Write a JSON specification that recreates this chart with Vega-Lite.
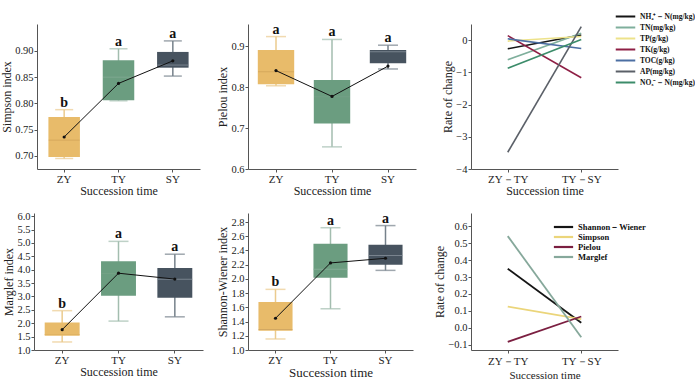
{
  "$schema": "https://vega.github.io/schema/vega-lite/v6.json",
  "padding": {"left": 0, "top": 11, "right": 0, "bottom": 0},
  "background": "white",
  "columns": 3,
  "align": "none",
  "bounds": "flush",
  "spacing": {"row": 44, "column": 42},
  "datasets": {
    "simpson": [
      {"g": "ZY", "lo": 0.695, "q1": 0.698, "med": 0.730, "q3": 0.774, "hi": 0.788, "mean": 0.736, "sig": "b"},
      {"g": "TY", "lo": 0.805, "q1": 0.806, "med": 0.850, "q3": 0.882, "hi": 0.904, "mean": 0.838, "sig": "a"},
      {"g": "SY", "lo": 0.852, "q1": 0.868, "med": 0.873, "q3": 0.898, "hi": 0.919, "mean": 0.881, "sig": "a"}
    ],
    "pielou": [
      {"g": "ZY", "lo": 0.803, "q1": 0.807, "med": 0.837, "q3": 0.890, "hi": 0.923, "mean": 0.840, "sig": "a"},
      {"g": "TY", "lo": 0.654, "q1": 0.711, "med": 0.776, "q3": 0.817, "hi": 0.916, "mean": 0.777, "sig": "a"},
      {"g": "SY", "lo": 0.844, "q1": 0.858, "med": 0.886, "q3": 0.890, "hi": 0.902, "mean": 0.851, "sig": "a"}
    ],
    "marglef": [
      {"g": "ZY", "lo": 1.30, "q1": 1.53, "med": 1.58, "q3": 2.03, "hi": 2.47, "mean": 1.76, "sig": "b"},
      {"g": "TY", "lo": 2.08, "q1": 3.03, "med": 3.86, "q3": 4.32, "hi": 5.06, "mean": 3.87, "sig": "a"},
      {"g": "SY", "lo": 2.24, "q1": 2.95, "med": 3.64, "q3": 4.06, "hi": 4.58, "mean": 3.65, "sig": "a"}
    ],
    "shannon": [
      {"g": "ZY", "lo": 1.155, "q1": 1.27, "med": 1.29, "q3": 1.675, "hi": 1.853, "mean": 1.446, "sig": "b"},
      {"g": "TY", "lo": 1.58, "q1": 2.018, "med": 2.135, "q3": 2.496, "hi": 2.72, "mean": 2.225, "sig": "a"},
      {"g": "SY", "lo": 2.12, "q1": 2.20, "med": 2.33, "q3": 2.48, "hi": 2.75, "mean": 2.29, "sig": "a"}
    ],
    "soil": [
      {"k": "NH₄⁺－N(mg/kg)", "p": "ZY－TY", "v": -0.27},
      {"k": "NH₄⁺－N(mg/kg)", "p": "TY－SY", "v": 0.16},
      {"k": "TN(mg/kg)", "p": "ZY－TY", "v": -0.61},
      {"k": "TN(mg/kg)", "p": "TY－SY", "v": 0.21},
      {"k": "TP(g/kg)", "p": "ZY－TY", "v": -0.03},
      {"k": "TP(g/kg)", "p": "TY－SY", "v": 0.11},
      {"k": "TK(g/kg)", "p": "ZY－TY", "v": 0.14},
      {"k": "TK(g/kg)", "p": "TY－SY", "v": -1.17},
      {"k": "TOC(g/kg)", "p": "ZY－TY", "v": 0.04},
      {"k": "TOC(g/kg)", "p": "TY－SY", "v": -0.26},
      {"k": "AP(mg/kg)", "p": "ZY－TY", "v": -3.48},
      {"k": "AP(mg/kg)", "p": "TY－SY", "v": 0.42},
      {"k": "NO₃⁻－N(mg/kg)", "p": "ZY－TY", "v": -0.87},
      {"k": "NO₃⁻－N(mg/kg)", "p": "TY－SY", "v": 0.02}
    ],
    "div": [
      {"k": "Shannon－Wiener", "p": "ZY－TY", "v": 0.349},
      {"k": "Shannon－Wiener", "p": "TY－SY", "v": 0.029},
      {"k": "Simpson", "p": "ZY－TY", "v": 0.125},
      {"k": "Simpson", "p": "TY－SY", "v": 0.05},
      {"k": "Pielou", "p": "ZY－TY", "v": -0.084},
      {"k": "Pielou", "p": "TY－SY", "v": 0.066},
      {"k": "Marglef", "p": "ZY－TY", "v": 0.543},
      {"k": "Marglef", "p": "TY－SY", "v": -0.057}
    ]
  },
  "resolve": {"scale": {"color": "independent"}, "legend": {"color": "independent"}},
  "concat": [
    {
      "width": 166, "height": 145,
      "data": {"name": "simpson"},
      "encoding": {"x": {"field": "g", "type": "nominal", "sort": ["ZY", "TY", "SY"], "scale": {"type": "band", "paddingInner": 0, "paddingOuter": 0, "range": [3, 166]}, "axis": {"title": "Succession time", "labelAngle": 0, "labelPadding": 1, "titlePadding": 1}}},
      "resolve": {"scale": {"color": "independent"}},
      "layer": [
        {"mark": {"type": "rule", "strokeWidth": 1.5}, "encoding": {"y": {"field": "lo", "type": "quantitative", "scale": {"domain": [0.675, 0.9512], "nice": false, "zero": false}, "axis": {"title": "Simpson index", "values": [0.7, 0.75, 0.8, 0.85, 0.9], "format": ".2f", "offset": -3, "labelOverlap": false}}, "y2": {"field": "hi"}, "color": {"field": "g", "type": "nominal", "scale": {"domain": ["ZY", "TY", "SY"], "range": ["#EBCB8E", "#A3BDAF", "#76818B"]}, "legend": null}}},
        {"mark": {"type": "bar", "width": {"band": 0.58}}, "encoding": {"y": {"field": "q1", "type": "quantitative", "axis": {"title": "Simpson index", "values": [0.7, 0.75, 0.8, 0.85, 0.9], "format": ".2f", "offset": -3, "labelOverlap": false}}, "y2": {"field": "q3"}, "color": {"field": "g", "type": "nominal", "scale": {"domain": ["ZY", "TY", "SY"], "range": ["#E8BB6A", "#6B9D80", "#47535F"]}, "legend": null}}},
        {"mark": {"type": "tick", "size": 18, "thickness": 1.5}, "encoding": {"y": {"field": "lo", "type": "quantitative", "axis": {"title": "Simpson index", "values": [0.7, 0.75, 0.8, 0.85, 0.9], "format": ".2f", "offset": -3, "labelOverlap": false}}, "color": {"field": "g", "type": "nominal", "scale": {"domain": ["ZY", "TY", "SY"], "range": ["#EBCB8E", "#A3BDAF", "#76818B"]}, "legend": null}}},
        {"mark": {"type": "tick", "size": 18, "thickness": 1.5}, "encoding": {"y": {"field": "hi", "type": "quantitative", "axis": {"title": "Simpson index", "values": [0.7, 0.75, 0.8, 0.85, 0.9], "format": ".2f", "offset": -3, "labelOverlap": false}}, "color": {"field": "g", "type": "nominal", "scale": {"domain": ["ZY", "TY", "SY"], "range": ["#EBCB8E", "#A3BDAF", "#76818B"]}, "legend": null}}},
        {"mark": {"type": "tick", "size": 31, "thickness": 1}, "encoding": {"y": {"field": "med", "type": "quantitative", "axis": {"title": "Simpson index", "values": [0.7, 0.75, 0.8, 0.85, 0.9], "format": ".2f", "offset": -3, "labelOverlap": false}}, "color": {"field": "g", "type": "nominal", "scale": {"domain": ["ZY", "TY", "SY"], "range": ["#CFA056", "#86AD96", "#8E99A2"]}, "legend": null}}},
        {"mark": {"type": "line", "color": "#111", "strokeWidth": 1}, "encoding": {"y": {"field": "mean", "type": "quantitative", "axis": {"title": "Simpson index", "values": [0.7, 0.75, 0.8, 0.85, 0.9], "format": ".2f", "offset": -3, "labelOverlap": false}}}},
        {"mark": {"type": "point", "filled": true, "color": "#111", "size": 10, "opacity": 1}, "encoding": {"y": {"field": "mean", "type": "quantitative", "axis": {"title": "Simpson index", "values": [0.7, 0.75, 0.8, 0.85, 0.9], "format": ".2f", "offset": -3, "labelOverlap": false}}}},
        {"mark": {"type": "text", "dy": -3, "baseline": "alphabetic", "font": "Liberation Serif", "fontWeight": "bold", "fontSize": 14, "color": "#111"}, "encoding": {"y": {"field": "hi", "type": "quantitative", "axis": {"title": "Simpson index", "values": [0.7, 0.75, 0.8, 0.85, 0.9], "format": ".2f", "offset": -3, "labelOverlap": false}}, "text": {"field": "sig"}}}
      ]
    },
    {
      "width": 181, "height": 145,
      "data": {"name": "pielou"},
      "encoding": {"x": {"field": "g", "type": "nominal", "sort": ["ZY", "TY", "SY"], "scale": {"type": "band", "paddingInner": 0, "paddingOuter": 0, "range": [0, 168]}, "axis": {"title": "Succession time", "labelAngle": 0, "labelPadding": 1, "titlePadding": 1}}},
      "resolve": {"scale": {"color": "independent"}},
      "layer": [
        {"mark": {"type": "rule", "strokeWidth": 1.5}, "encoding": {"y": {"field": "lo", "type": "quantitative", "scale": {"domain": [0.6, 0.9537], "nice": false, "zero": false}, "axis": {"title": "Pielou index", "values": [0.6, 0.7, 0.8, 0.9], "format": ".1f", "labelOverlap": false}}, "y2": {"field": "hi"}, "color": {"field": "g", "type": "nominal", "scale": {"domain": ["ZY", "TY", "SY"], "range": ["#EBCB8E", "#A3BDAF", "#76818B"]}, "legend": null}}},
        {"mark": {"type": "bar", "width": {"band": 0.65}}, "encoding": {"y": {"field": "q1", "type": "quantitative", "axis": {"title": "Pielou index", "values": [0.6, 0.7, 0.8, 0.9], "format": ".1f", "labelOverlap": false}}, "y2": {"field": "q3"}, "color": {"field": "g", "type": "nominal", "scale": {"domain": ["ZY", "TY", "SY"], "range": ["#E8BB6A", "#6B9D80", "#47535F"]}, "legend": null}}},
        {"mark": {"type": "tick", "size": 20, "thickness": 1.5}, "encoding": {"y": {"field": "lo", "type": "quantitative", "axis": {"title": "Pielou index", "values": [0.6, 0.7, 0.8, 0.9], "format": ".1f", "labelOverlap": false}}, "color": {"field": "g", "type": "nominal", "scale": {"domain": ["ZY", "TY", "SY"], "range": ["#EBCB8E", "#A3BDAF", "#76818B"]}, "legend": null}}},
        {"mark": {"type": "tick", "size": 20, "thickness": 1.5}, "encoding": {"y": {"field": "hi", "type": "quantitative", "axis": {"title": "Pielou index", "values": [0.6, 0.7, 0.8, 0.9], "format": ".1f", "labelOverlap": false}}, "color": {"field": "g", "type": "nominal", "scale": {"domain": ["ZY", "TY", "SY"], "range": ["#EBCB8E", "#A3BDAF", "#76818B"]}, "legend": null}}},
        {"mark": {"type": "tick", "size": 36, "thickness": 1}, "encoding": {"y": {"field": "med", "type": "quantitative", "axis": {"title": "Pielou index", "values": [0.6, 0.7, 0.8, 0.9], "format": ".1f", "labelOverlap": false}}, "color": {"field": "g", "type": "nominal", "scale": {"domain": ["ZY", "TY", "SY"], "range": ["#CFA056", "#76A287", "#8E99A2"]}, "legend": null}}},
        {"mark": {"type": "line", "color": "#111", "strokeWidth": 1}, "encoding": {"y": {"field": "mean", "type": "quantitative", "axis": {"title": "Pielou index", "values": [0.6, 0.7, 0.8, 0.9], "format": ".1f", "labelOverlap": false}}}},
        {"mark": {"type": "point", "filled": true, "color": "#111", "size": 10, "opacity": 1}, "encoding": {"y": {"field": "mean", "type": "quantitative", "axis": {"title": "Pielou index", "values": [0.6, 0.7, 0.8, 0.9], "format": ".1f", "labelOverlap": false}}}},
        {"mark": {"type": "text", "dy": -3, "baseline": "alphabetic", "font": "Liberation Serif", "fontWeight": "bold", "fontSize": 14, "color": "#111"}, "encoding": {"y": {"field": "hi", "type": "quantitative", "axis": {"title": "Pielou index", "values": [0.6, 0.7, 0.8, 0.9], "format": ".1f", "labelOverlap": false}}, "text": {"field": "sig"}}}
      ]
    },
    {
      "width": 147, "height": 145,
      "data": {"name": "soil"},
      "mark": {"type": "line", "strokeWidth": 1.6},
      "encoding": {
        "x": {"field": "p", "type": "nominal", "sort": ["ZY－TY", "TY－SY"], "scale": {"type": "point", "padding": 0.5}, "axis": {"title": "Succession time", "labelAngle": 0, "labelPadding": 1, "titlePadding": 1}},
        "y": {"field": "v", "type": "quantitative", "scale": {"domain": [-4, 0.5], "nice": false, "zero": false}, "axis": {"title": "Rate of change", "values": [-4, -3, -2, -1, 0], "format": "d", "labelOverlap": false}},
        "color": {"field": "k", "type": "nominal", "scale": {"domain": ["NH₄⁺－N(mg/kg)", "TN(mg/kg)", "TP(g/kg)", "TK(g/kg)", "TOC(g/kg)", "AP(mg/kg)", "NO₃⁻－N(mg/kg)"], "range": ["#151515", "#7FAF9C", "#EDE28A", "#8E1F45", "#4C6FA3", "#5B6068", "#3C8C6A"]}, "legend": {"orient": "none", "legendX": 149, "legendY": -13, "title": null, "symbolType": "M-2.3,0L2.3,0", "symbolSize": 72, "symbolStrokeWidth": 2, "labelFont": "Liberation Serif", "labelFontWeight": "bold", "labelFontSize": 7.5, "labelColor": "#111", "rowPadding": 1, "labelOffset": 9}}
      }
    },
    {
      "width": 172, "height": 137,
      "data": {"name": "marglef"},
      "encoding": {"x": {"field": "g", "type": "nominal", "sort": ["ZY", "TY", "SY"], "scale": {"type": "band", "paddingInner": 0, "paddingOuter": 0, "range": [0, 169]}, "axis": {"title": "Succession time", "labelAngle": 0, "labelPadding": 1, "titlePadding": 1}}},
      "resolve": {"scale": {"color": "independent"}},
      "layer": [
        {"mark": {"type": "rule", "strokeWidth": 1.5}, "encoding": {"y": {"field": "lo", "type": "quantitative", "scale": {"domain": [1, 6.12], "nice": false, "zero": false}, "axis": {"title": "Marglef index", "values": [1, 1.5, 2, 2.5, 3, 3.5, 4, 4.5, 5, 5.5, 6], "format": ".1f", "labelOverlap": false}}, "y2": {"field": "hi"}, "color": {"field": "g", "type": "nominal", "scale": {"domain": ["ZY", "TY", "SY"], "range": ["#EBCB8E", "#A3BDAF", "#76818B"]}, "legend": null}}},
        {"mark": {"type": "bar", "width": {"band": 0.62}}, "encoding": {"y": {"field": "q1", "type": "quantitative", "axis": {"title": "Marglef index", "values": [1, 1.5, 2, 2.5, 3, 3.5, 4, 4.5, 5, 5.5, 6], "format": ".1f", "labelOverlap": false}}, "y2": {"field": "q3"}, "color": {"field": "g", "type": "nominal", "scale": {"domain": ["ZY", "TY", "SY"], "range": ["#E8BB6A", "#6B9D80", "#47535F"]}, "legend": null}}},
        {"mark": {"type": "tick", "size": 20, "thickness": 1.5}, "encoding": {"y": {"field": "lo", "type": "quantitative", "axis": {"title": "Marglef index", "values": [1, 1.5, 2, 2.5, 3, 3.5, 4, 4.5, 5, 5.5, 6], "format": ".1f", "labelOverlap": false}}, "color": {"field": "g", "type": "nominal", "scale": {"domain": ["ZY", "TY", "SY"], "range": ["#EBCB8E", "#A3BDAF", "#76818B"]}, "legend": null}}},
        {"mark": {"type": "tick", "size": 20, "thickness": 1.5}, "encoding": {"y": {"field": "hi", "type": "quantitative", "axis": {"title": "Marglef index", "values": [1, 1.5, 2, 2.5, 3, 3.5, 4, 4.5, 5, 5.5, 6], "format": ".1f", "labelOverlap": false}}, "color": {"field": "g", "type": "nominal", "scale": {"domain": ["ZY", "TY", "SY"], "range": ["#EBCB8E", "#A3BDAF", "#76818B"]}, "legend": null}}},
        {"mark": {"type": "tick", "size": 35, "thickness": 1}, "encoding": {"y": {"field": "med", "type": "quantitative", "axis": {"title": "Marglef index", "values": [1, 1.5, 2, 2.5, 3, 3.5, 4, 4.5, 5, 5.5, 6], "format": ".1f", "labelOverlap": false}}, "color": {"field": "g", "type": "nominal", "scale": {"domain": ["ZY", "TY", "SY"], "range": ["#DDAF60", "#76A287", "#8E99A2"]}, "legend": null}}},
        {"mark": {"type": "line", "color": "#111", "strokeWidth": 1}, "encoding": {"y": {"field": "mean", "type": "quantitative", "axis": {"title": "Marglef index", "values": [1, 1.5, 2, 2.5, 3, 3.5, 4, 4.5, 5, 5.5, 6], "format": ".1f", "labelOverlap": false}}}},
        {"mark": {"type": "point", "filled": true, "color": "#111", "size": 10, "opacity": 1}, "encoding": {"y": {"field": "mean", "type": "quantitative", "axis": {"title": "Marglef index", "values": [1, 1.5, 2, 2.5, 3, 3.5, 4, 4.5, 5, 5.5, 6], "format": ".1f", "labelOverlap": false}}}},
        {"mark": {"type": "text", "dy": -3, "baseline": "alphabetic", "font": "Liberation Serif", "fontWeight": "bold", "fontSize": 14, "color": "#111"}, "encoding": {"y": {"field": "hi", "type": "quantitative", "axis": {"title": "Marglef index", "values": [1, 1.5, 2, 2.5, 3, 3.5, 4, 4.5, 5, 5.5, 6], "format": ".1f", "labelOverlap": false}}, "text": {"field": "sig"}}}
      ]
    },
    {
      "width": 175, "height": 137,
      "data": {"name": "shannon"},
      "encoding": {"x": {"field": "g", "type": "nominal", "sort": ["ZY", "TY", "SY"], "scale": {"type": "band", "paddingInner": 0, "paddingOuter": 0, "range": [0, 165]}, "axis": {"title": "Succession time", "labelAngle": 0, "titleFontSize": 13, "labelPadding": 1, "titlePadding": 1}}},
      "resolve": {"scale": {"color": "independent"}},
      "layer": [
        {"mark": {"type": "rule", "strokeWidth": 1.5}, "encoding": {"y": {"field": "lo", "type": "quantitative", "scale": {"domain": [1, 2.927], "nice": false, "zero": false}, "axis": {"title": "Shannon-Wiener index", "values": [1, 1.2, 1.4, 1.6, 1.8, 2, 2.2, 2.4, 2.6, 2.8], "format": ".1f", "labelOverlap": false}}, "y2": {"field": "hi"}, "color": {"field": "g", "type": "nominal", "scale": {"domain": ["ZY", "TY", "SY"], "range": ["#EBCB8E", "#A3BDAF", "#76818B"]}, "legend": null}}},
        {"mark": {"type": "bar", "width": {"band": 0.62}}, "encoding": {"y": {"field": "q1", "type": "quantitative", "axis": {"title": "Shannon-Wiener index", "values": [1, 1.2, 1.4, 1.6, 1.8, 2, 2.2, 2.4, 2.6, 2.8], "format": ".1f", "labelOverlap": false}}, "y2": {"field": "q3"}, "color": {"field": "g", "type": "nominal", "scale": {"domain": ["ZY", "TY", "SY"], "range": ["#E8BB6A", "#6B9D80", "#47535F"]}, "legend": null}}},
        {"mark": {"type": "tick", "size": 20, "thickness": 1.5}, "encoding": {"y": {"field": "lo", "type": "quantitative", "axis": {"title": "Shannon-Wiener index", "values": [1, 1.2, 1.4, 1.6, 1.8, 2, 2.2, 2.4, 2.6, 2.8], "format": ".1f", "labelOverlap": false}}, "color": {"field": "g", "type": "nominal", "scale": {"domain": ["ZY", "TY", "SY"], "range": ["#EBCB8E", "#A3BDAF", "#76818B"]}, "legend": null}}},
        {"mark": {"type": "tick", "size": 20, "thickness": 1.5}, "encoding": {"y": {"field": "hi", "type": "quantitative", "axis": {"title": "Shannon-Wiener index", "values": [1, 1.2, 1.4, 1.6, 1.8, 2, 2.2, 2.4, 2.6, 2.8], "format": ".1f", "labelOverlap": false}}, "color": {"field": "g", "type": "nominal", "scale": {"domain": ["ZY", "TY", "SY"], "range": ["#EBCB8E", "#A3BDAF", "#76818B"]}, "legend": null}}},
        {"mark": {"type": "tick", "size": 34, "thickness": 1}, "encoding": {"y": {"field": "med", "type": "quantitative", "axis": {"title": "Shannon-Wiener index", "values": [1, 1.2, 1.4, 1.6, 1.8, 2, 2.2, 2.4, 2.6, 2.8], "format": ".1f", "labelOverlap": false}}, "color": {"field": "g", "type": "nominal", "scale": {"domain": ["ZY", "TY", "SY"], "range": ["#C9A060", "#8DB29C", "#8E99A2"]}, "legend": null}}},
        {"mark": {"type": "line", "color": "#111", "strokeWidth": 1}, "encoding": {"y": {"field": "mean", "type": "quantitative", "axis": {"title": "Shannon-Wiener index", "values": [1, 1.2, 1.4, 1.6, 1.8, 2, 2.2, 2.4, 2.6, 2.8], "format": ".1f", "labelOverlap": false}}}},
        {"mark": {"type": "point", "filled": true, "color": "#111", "size": 10, "opacity": 1}, "encoding": {"y": {"field": "mean", "type": "quantitative", "axis": {"title": "Shannon-Wiener index", "values": [1, 1.2, 1.4, 1.6, 1.8, 2, 2.2, 2.4, 2.6, 2.8], "format": ".1f", "labelOverlap": false}}}},
        {"mark": {"type": "text", "dy": -3, "baseline": "alphabetic", "font": "Liberation Serif", "fontWeight": "bold", "fontSize": 14, "color": "#111"}, "encoding": {"y": {"field": "hi", "type": "quantitative", "axis": {"title": "Shannon-Wiener index", "values": [1, 1.2, 1.4, 1.6, 1.8, 2, 2.2, 2.4, 2.6, 2.8], "format": ".1f", "labelOverlap": false}}, "text": {"field": "sig"}}}
      ]
    },
    {
      "width": 147, "height": 137,
      "data": {"name": "div"},
      "mark": {"type": "line", "strokeWidth": 1.8},
      "encoding": {
        "x": {"field": "p", "type": "nominal", "sort": ["ZY－TY", "TY－SY"], "scale": {"type": "point", "padding": 0.5}, "axis": {"title": "Succession time", "labelAngle": 0, "titleFontSize": 11}},
        "y": {"field": "v", "type": "quantitative", "scale": {"domain": [-0.1326, 0.68], "nice": false, "zero": false}, "axis": {"title": "Rate of change", "values": [-0.1, 0, 0.1, 0.2, 0.3, 0.4, 0.5, 0.6], "format": ".1f", "labelOverlap": false}},
        "color": {"field": "k", "type": "nominal", "scale": {"domain": ["Shannon－Wiener", "Simpson", "Pielou", "Marglef"], "range": ["#151515", "#EBD57A", "#7B1F41", "#86A89B"]}, "legend": {"orient": "none", "legendX": 87, "legendY": 8.5, "title": null, "symbolType": "M-2.3,0L2.3,0", "symbolSize": 70, "symbolStrokeWidth": 2.2, "labelFont": "Liberation Serif", "labelFontWeight": "bold", "labelFontSize": 8.5, "labelColor": "#111", "rowPadding": 0, "labelOffset": 9}}
      }
    }
  ],
  "config": {
    "view": {"stroke": null},
    "font": "Liberation Serif",
    "axis": {
      "grid": false,
      "domainColor": "#555",
      "tickColor": "#555",
      "tickSize": 3,
      "labelPadding": 1,
      "titlePadding": 3,
      "labelOverlap": false,
      "labelFont": "Liberation Serif",
      "titleFont": "Liberation Serif",
      "labelFontSize": 10.5,
      "titleFontSize": 12,
      "titleFontWeight": "normal",
      "labelColor": "#222",
      "titleColor": "#222"
    },
    "axisY": {"titlePadding": 1},
    "axisX": {"labelFontSize": 11, "labelPadding": 2}
  }
}
